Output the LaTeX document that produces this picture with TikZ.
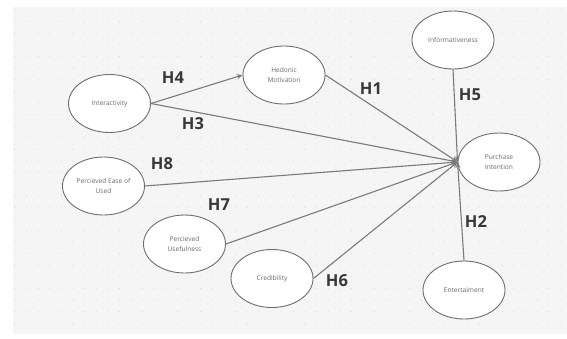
\documentclass[tikz,border=0pt]{standalone}
\usepackage{fontspec}
\setmainfont{Open Sans}
\usetikzlibrary{shapes.geometric,arrows.meta}
\definecolor{bgc}{HTML}{F5F5F5}
\definecolor{dotc}{HTML}{D6D6D6}
\definecolor{edgec}{HTML}{6E6E6E}
\definecolor{linec}{HTML}{7A7A7A}
\definecolor{txtc}{HTML}{6A6A6A}
\definecolor{hc}{HTML}{383838}
\tikzset{
  var/.style={ellipse, draw=edgec, line width=0.9pt, fill=white, minimum width=82pt, minimum height=58pt, inner sep=0pt, align=center, text=txtc, font=\fontsize{6.6}{10.3}\selectfont},
  link/.style={draw=linec, line width=1.1pt, -{Stealth[length=6pt,width=5pt]}},
  hyp/.style={text=hc, font=\fontsize{16.5}{18}\selectfont\bfseries, inner sep=0pt}
}
\begin{document}
\begin{tikzpicture}[x=1pt,y=-1pt]
\useasboundingbox (0,0) rectangle (567,338);
\fill[white] (0,0) rectangle (567,338);
\fill[bgc] (13,7) rectangle (567,334);
\foreach \i in {0,...,47}{
  \foreach \j in {0,...,27}{
    \fill[dotc] ({15+11.6*\i},{10+11.6*\j}) circle (0.55);
  }
}
\node[var] (hed) at (284,75) {Hedonic\\Motivation};
\node[var] (inf) at (453,40) {Informativeness};
\node[var] (int) at (109.5,103.5) {Interactivity};
\node[var] (pi)  at (499,162) {Purchase\\Intention};
\node[var] (peu) at (103.5,186) {Percieved Ease of\\Used};
\node[var] (pu)  at (184.5,244) {Percieved\\Usefulness};
\node[var] (cre) at (272,278.5) {Credibility};
\node[var] (ent) at (464,290) {Entertaiment};
\coordinate (hub) at (pi.west);
\draw[link] (int.east) -- (hed.west);
\draw[link] (int.east) -- (hub);
\draw[link] (hed.east) -- (hub);
\draw[link] (inf.south) -- (hub);
\draw[link] (peu.east) -- (hub);
\draw[link] (pu.east) -- (hub);
\draw[link] (cre.east) -- (hub);
\draw[link] (ent.north) -- (hub);
\node[hyp] (h4) at (173,78) {H4};
\node[hyp] (h3) at (193,124) {H3};
\node[hyp] (h1) at (371,89) {H1};
\node[hyp] (h5) at (470,95) {H5};
\node[hyp] (h8) at (162,164) {H8};
\node[hyp] (h7) at (219,205) {H7};
\node[hyp] (h6) at (337,281) {H6};
\node[hyp] (h2) at (476,222) {H2};
\end{tikzpicture}
\end{document}
